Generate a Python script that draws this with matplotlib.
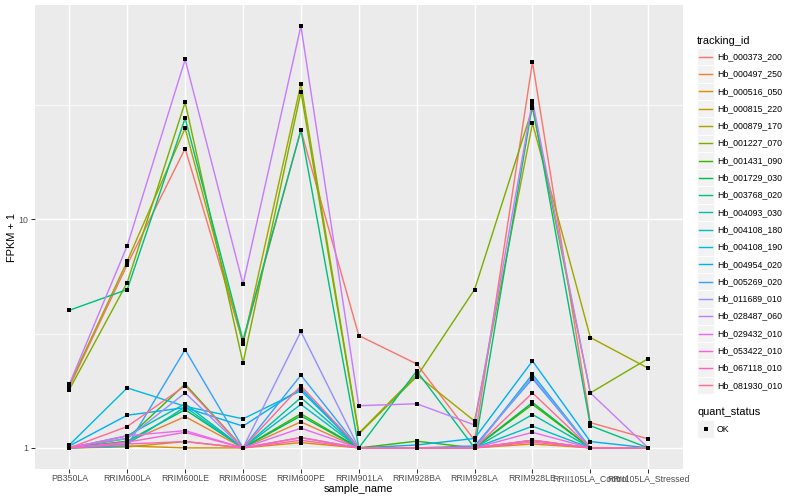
import numpy as np
import matplotlib
matplotlib.use("Agg")
import matplotlib.pyplot as plt
from matplotlib.patches import Rectangle

plt.rcParams['font.family'] = ['Liberation Sans', 'DejaVu Sans']

samples = ["PB350LA", "RRIM600LA", "RRIM600LE", "RRIM600SE", "RRIM600PE", "RRIM901LA",
           "RRIM928BA", "RRIM928LA", "RRIM928LE", "RRII105LA_Control", "RRII105LA_Stressed"]

tracking_ids = ["Hb_000373_200", "Hb_000497_250", "Hb_000516_050", "Hb_000815_220",
                "Hb_000879_170", "Hb_001227_070", "Hb_001431_090", "Hb_001729_030",
                "Hb_003768_020", "Hb_004093_030", "Hb_004108_180", "Hb_004108_190",
                "Hb_004954_020", "Hb_005269_020", "Hb_011689_010", "Hb_028487_060",
                "Hb_029432_010", "Hb_053422_010", "Hb_067118_010", "Hb_081930_010"]

colors = ["#F8766D", "#EA8331", "#D89000", "#C09B00", "#A3A500", "#7CAE00", "#39B600",
          "#00BB4E", "#00BF7D", "#00C1A3", "#00BFC4", "#00BAE0", "#00B0F6", "#35A2FF",
          "#9590FF", "#C77CFF", "#E76BF3", "#FA62DB", "#FF62BC", "#FF6C91"]

# FPKM + 1 values per gene, in sample order
hb_000373_200 = [1.85, 6.33, 20.4, 2.90, 24.5, 3.10, 2.33, 1.08, 48.7, 1.29, 1.095]
hb_000497_250 = [1.00, 1.06, 1.37, 1.00, 1.30, 1.00, 1.00, 1.00, 1.08, 1.00, 1.00]
hb_000516_050 = [1.00, 1.02, 1.00, 1.00, 1.055, 1.00, 1.00, 1.00, 1.04, 1.00, 1.00]
hb_000815_220 = [1.00, 1.01, 1.066, 1.00, 1.11, 1.00, 1.00, 1.00, 1.08, 1.00, 1.00]
hb_000879_170 = [1.88, 6.56, 25.0, 2.85, 39.1, 1.16, 2.09, 1.31, 26.3, 3.04, 2.23]
hb_001227_070 = [1.80, 5.29, 32.5, 2.35, 36.1, 1.15, 2.05, 4.93, 30.6, 1.74, 2.46]
hb_001431_090 = [1.00, 1.10, 1.90, 1.00, 1.41, 1.00, 1.07, 1.00, 1.55, 1.00, 1.00]
hb_001729_030 = [1.00, 1.07, 1.47, 1.00, 1.38, 1.00, 1.00, 1.00, 1.58, 1.00, 1.00]
hb_003768_020 = [4.00, 4.93, 27.7, 2.96, 24.6, 1.00, 2.17, 1.00, 31.8, 1.25, 1.00]
hb_004093_030 = [1.00, 1.13, 1.56, 1.00, 1.66, 1.00, 1.00, 1.00, 1.40, 1.00, 1.00]
hb_004108_180 = [1.00, 1.04, 1.51, 1.00, 1.55, 1.00, 1.00, 1.00, 1.245, 1.00, 1.00]
hb_004108_190 = [1.03, 1.83, 1.52, 1.34, 1.78, 1.00, 1.00, 1.00, 2.10, 1.00, 1.00]
hb_004954_020 = [1.02, 1.39, 1.50, 1.245, 1.82, 1.00, 1.03, 1.10, 2.40, 1.066, 1.00]
hb_005269_020 = [1.00, 1.02, 2.69, 1.00, 2.08, 1.00, 1.00, 1.02, 2.01, 1.00, 1.00]
hb_011689_010 = [1.01, 1.10, 1.74, 1.00, 3.23, 1.00, 1.00, 1.00, 2.05, 1.00, 1.00]
hb_028487_060 = [1.90, 7.66, 50.0, 5.20, 70.0, 1.53, 1.56, 1.26, 33.0, 1.74, 1.00]
hb_029432_010 = [1.00, 1.13, 1.19, 1.00, 1.22, 1.00, 1.00, 1.00, 1.17, 1.00, 1.00]
hb_053422_010 = [1.00, 1.06, 1.17, 1.00, 1.11, 1.00, 1.00, 1.00, 1.08, 1.00, 1.00]
hb_067118_010 = [1.00, 1.04, 1.066, 1.00, 1.08, 1.00, 1.00, 1.00, 1.06, 1.00, 1.00]
hb_081930_010 = [1.00, 1.24, 1.87, 1.00, 1.87, 1.00, 1.00, 1.00, 1.74, 1.00, 1.00]

series = [hb_000373_200, hb_000497_250, hb_000516_050, hb_000815_220, hb_000879_170,
          hb_001227_070, hb_001431_090, hb_001729_030, hb_003768_020, hb_004093_030,
          hb_004108_180, hb_004108_190, hb_004954_020, hb_005269_020, hb_011689_010,
          hb_028487_060, hb_029432_010, hb_053422_010, hb_067118_010, hb_081930_010]

W, H = 800, 500
fig = plt.figure(figsize=(8, 5), dpi=100)
px = 72 / 100.0  # points per pixel

left, right, top, bottom = 34.6, 683.0, 5.0, 469.0
ax = fig.add_axes([left / W, 1 - bottom / H, (right - left) / W, (bottom - top) / H])
ax.set_facecolor("#EBEBEB")
for s in ax.spines.values():
    s.set_visible(False)

x = np.arange(len(samples))
for vals, c in zip(series, colors):
    ax.plot(x, vals, color=c, lw=1.42 * px, zorder=3, solid_capstyle="butt")
for vals in series:
    ax.plot(x, vals, ls="none", marker="s", ms=4.0 * px, mfc="black",
            mec="black", mew=0, zorder=4)

ax.set_yscale("log")
allv = np.concatenate([np.asarray(v) for v in series])
lo, hi = np.log10(allv.min()), np.log10(allv.max())
pad = 0.05 * (hi - lo)
ax.set_ylim(10 ** (lo - pad), 10 ** (hi + pad))
ax.set_xlim(-0.6, len(samples) - 1 + 0.6)

ax.set_yticks([1, 10])
ax.set_yticklabels(["1", "10"])
ax.yaxis.set_minor_locator(matplotlib.ticker.FixedLocator([10 ** 0.5, 10 ** 1.5]))
ax.yaxis.set_minor_formatter(matplotlib.ticker.NullFormatter())
ax.set_xticks(x)
ax.set_xticklabels(samples)

ax.grid(which="major", color="white", lw=1.42 * px, zorder=0)
ax.grid(which="minor", axis="y", color="white", lw=0.71 * px, zorder=0)
ax.set_axisbelow(True)
ax.tick_params(axis="both", which="major", length=2.75 * 1.39 * px, width=1.0 * px,
               color="#333333", labelcolor="#4D4D4D", labelsize=8.8 * px)
ax.tick_params(axis="x", which="major", pad=1.0)
ax.tick_params(axis="y", which="major", pad=2.0)
ax.tick_params(axis="y", which="minor", length=0)

ax.set_xlabel("sample_name", fontsize=11 * px, color="black", labelpad=0.5)
ax.set_ylabel("FPKM + 1", fontsize=11 * px, color="black")
ax.yaxis.set_label_coords((17 - left) / (right - left), 0.5)

# Legend drawn in pixel coordinates
lg = fig.add_axes([0, 0, 1, 1])
lg.set_xlim(0, W)
lg.set_ylim(H, 0)
lg.axis("off")
lg.text(697, 40.5, "tracking_id", fontsize=11 * px, va="center", ha="left")
y0, dy = 56.7, 17.3
for i, (tid, c) in enumerate(zip(tracking_ids, colors)):
    yc = y0 + i * dy
    lg.add_patch(Rectangle((697, yc - dy / 2), 17, dy, facecolor="#F2F2F2",
                           edgecolor="white", lw=0.8 * px))
    lg.plot([698.7, 712.3], [yc, yc], color=c, lw=1.42 * px)
    lg.text(717, yc, tid, fontsize=8.8 * px, va="center", ha="left")
lg.text(697, 412, "quant_status", fontsize=11 * px, va="center", ha="left")
lg.add_patch(Rectangle((697, 429 - dy / 2), 17, dy, facecolor="#F2F2F2",
                       edgecolor="white", lw=0.8 * px))
lg.plot([705.5], [429], ls="none", marker="s", ms=4.0 * px, mfc="black", mec="black", mew=0)
lg.text(717, 429, "OK", fontsize=8.8 * px, va="center", ha="left")

fig.savefig("out.png", dpi=100, facecolor="white")
